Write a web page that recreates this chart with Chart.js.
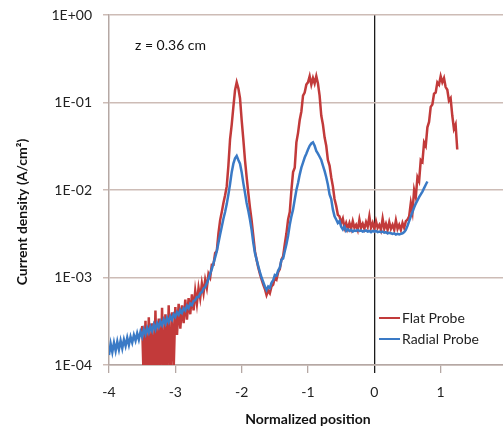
<!DOCTYPE html>
<html>
<head>
<meta charset="utf-8">
<title>Current density vs normalized position</title>
<script src="https://cdn.jsdelivr.net/npm/chart.js@4.4.1/dist/chart.umd.min.js"></script>
<style>
  html, body { margin: 0; padding: 0; background: #fff; overflow: hidden; }
  #wrap { width: 503px; height: 433px; overflow: hidden; }
  canvas { display: block; }
</style>
</head>
<body>
<div id="wrap"><canvas id="densityChart" width="520" height="433"></canvas></div>
<script>
// probe scan positions (normalized), shared by both probes
const positions = [
  -4,-3.975,-3.95,-3.925,-3.9,-3.875,-3.85,-3.825,-3.8,-3.775,-3.75,-3.725,-3.7,-3.675,-3.65,-3.625,-3.6,-3.575,-3.55,-3.525,
  -3.5,-3.475,-3.45,-3.425,-3.4,-3.375,-3.35,-3.325,-3.3,-3.275,-3.25,-3.225,-3.2,-3.175,-3.15,-3.125,-3.1,-3.075,-3.05,-3.025,
  -3,-2.975,-2.95,-2.925,-2.9,-2.875,-2.85,-2.825,-2.8,-2.775,-2.75,-2.725,-2.7,-2.675,-2.65,-2.625,-2.6,-2.575,-2.55,-2.525,
  -2.5,-2.475,-2.45,-2.425,-2.4,-2.375,-2.35,-2.325,-2.3,-2.275,-2.25,-2.225,-2.2,-2.175,-2.15,-2.125,-2.1,-2.075,-2.05,-2.025,
  -2,-1.975,-1.95,-1.925,-1.9,-1.875,-1.85,-1.825,-1.8,-1.775,-1.75,-1.725,-1.7,-1.675,-1.65,-1.625,-1.6,-1.575,-1.55,-1.525,
  -1.5,-1.475,-1.45,-1.425,-1.4,-1.375,-1.35,-1.325,-1.3,-1.275,-1.25,-1.225,-1.2,-1.175,-1.15,-1.125,-1.1,-1.075,-1.05,-1.025,
  -1,-0.975,-0.95,-0.925,-0.9,-0.875,-0.85,-0.825,-0.8,-0.775,-0.75,-0.725,-0.7,-0.675,-0.65,-0.625,-0.6,-0.575,-0.55,-0.525,
  -0.5,-0.475,-0.45,-0.425,-0.4,-0.375,-0.35,-0.325,-0.3,-0.275,-0.25,-0.225,-0.2,-0.175,-0.15,-0.125,-0.1,-0.075,-0.05,-0.025,
  0,0.025,0.05,0.075,0.1,0.125,0.15,0.175,0.2,0.225,0.25,0.275,0.3,0.325,0.35,0.375,0.4,0.425,0.45,0.475,
  0.5,0.525,0.55,0.575,0.6,0.625,0.65,0.675,0.7,0.725,0.75,0.775,0.8,0.825,0.85,0.875,0.9,0.925,0.95,0.975,
  1,1.025,1.05,1.075,1.1,1.125,1.15,1.175,1.2,1.225,1.25
];

// current density, A/cm^2 (null = no reading)
const flatProbe = [
  null,null,null,null,null,null,null,null,null,null,null,null,null,null,null,null,null,null,null,null,
  2.8e-4,6e-5,3.2e-4,5e-5,3.5e-4,7e-5,3.0e-4,5e-5,4.2e-4,6e-5,3.4e-4,8e-5,4.5e-4,5e-5,3.8e-4,7e-5,4.8e-4,6e-5,4.0e-4,9e-5,
  4.6e-4,2.2e-4,5.0e-4,2.6e-4,4.8e-4,3.0e-4,5.6e-4,3.3e-4,5.8e-4,3.8e-4,6.4e-4,4.2e-4,7.0e-4,5.0e-4,7.6e-4,5.8e-4,8.5e-4,6.6e-4,9.4e-4,7.6e-4,
  1.1e-3,1.0e-3,1.4e-3,1.4e-3,1.9e-3,2.0e-3,3.2e-3,4.5e-3,5.6e-3,7.1e-3,8.7e-3,1.1e-2,1.9e-2,3.8e-2,5.6e-2,8.9e-2,0.138,0.17,0.145,0.112,
  6.3e-2,3.8e-2,2.2e-2,1.4e-2,9.3e-3,6.3e-3,4.5e-3,3.0e-3,2.0e-3,1.6e-3,1.3e-3,1.1e-3,9.5e-4,8.3e-4,7.4e-4,6.3e-4,7.1e-4,6.6e-4,7.9e-4,8.3e-4,
  1.0e-3,9.5e-4,1.15e-3,1.25e-3,1.6e-3,1.75e-3,2.4e-3,3.2e-3,4.6e-3,5.6e-3,1.0e-2,1.6e-2,1.8e-2,3.5e-2,4.5e-2,6.3e-2,7.9e-2,0.12,0.13,0.16,
  0.17,0.2,0.16,0.19,0.165,0.2,0.165,0.12,7.1e-2,5.6e-2,4.0e-2,3.2e-2,2.2e-2,1.9e-2,1.4e-2,1.1e-2,7.9e-3,6.6e-3,5.2e-3,5.0e-3,
  4.2e-3,4.7e-3,3.7e-3,4.2e-3,3.6e-3,4.2e-3,3.6e-3,4.4e-3,3.7e-3,4.0e-3,3.5e-3,4.6e-3,3.7e-3,4.1e-3,3.6e-3,4.3e-3,3.8e-3,5.0e-3,3.7e-3,4.2e-3,
  3.6e-3,4.4e-3,3.7e-3,4.0e-3,3.5e-3,4.7e-3,3.6e-3,4.1e-3,3.5e-3,4.3e-3,3.6e-3,4.0e-3,3.5e-3,4.5e-3,3.6e-3,4.0e-3,3.5e-3,4.2e-3,3.7e-3,4.4e-3,
  4.6e-3,5.0e-3,7.1e-3,5.6e-3,1.0e-2,8.3e-3,1.4e-2,1.26e-2,2.2e-2,2.1e-2,3.5e-2,3.2e-2,5.2e-2,6.0e-2,8.9e-2,9.5e-2,0.126,0.13,0.17,0.16,
  0.2,0.17,0.19,0.15,0.14,0.105,0.112,7.1e-2,5.0e-2,5.6e-2,2.9e-2
];

const radialProbe = [
  1.3e-4,1.75e-4,1.4e-4,1.8e-4,1.45e-4,1.85e-4,1.5e-4,1.9e-4,1.55e-4,1.95e-4,1.65e-4,2.05e-4,1.7e-4,2.1e-4,1.8e-4,2.2e-4,1.9e-4,2.3e-4,1.95e-4,2.4e-4,
  2.1e-4,2.55e-4,2.25e-4,2.65e-4,2.35e-4,2.75e-4,2.45e-4,2.9e-4,2.55e-4,3.0e-4,2.7e-4,3.15e-4,2.85e-4,3.3e-4,2.95e-4,3.45e-4,3.1e-4,3.6e-4,3.3e-4,3.8e-4,
  3.55e-4,4.0e-4,3.75e-4,4.25e-4,3.95e-4,4.45e-4,4.2e-4,4.75e-4,4.45e-4,5.05e-4,4.85e-4,5.4e-4,5.5e-4,6.0e-4,6.0e-4,6.6e-4,6.8e-4,7.5e-4,7.8e-4,8.6e-4,
  9.6e-4,1.1e-3,1.25e-3,1.45e-3,1.7e-3,2.0e-3,2.5e-3,3.1e-3,3.8e-3,4.7e-3,5.6e-3,6.9e-3,8.9e-3,1.17e-2,1.6e-2,2.0e-2,2.3e-2,2.45e-2,2.2e-2,2.0e-2,
  1.6e-2,1.2e-2,9.3e-3,7.1e-3,5.8e-3,4.6e-3,3.5e-3,2.5e-3,1.9e-3,1.6e-3,1.35e-3,1.15e-3,1.0e-3,8.9e-4,7.9e-4,7.2e-4,7.9e-4,7.6e-4,8.7e-4,9.3e-4,
  1.07e-3,1.05e-3,1.2e-3,1.3e-3,1.6e-3,1.65e-3,2.0e-3,2.4e-3,3.0e-3,4.0e-3,5.0e-3,6.0e-3,7.8e-3,1.0e-2,1.2e-2,1.5e-2,1.8e-2,2.05e-2,2.35e-2,2.6e-2,
  2.9e-2,3.2e-2,3.4e-2,3.5e-2,3.2e-2,2.8e-2,2.6e-2,2.4e-2,2.2e-2,1.9e-2,1.65e-2,1.4e-2,1.15e-2,8.9e-3,7.9e-3,6.0e-3,5.0e-3,4.6e-3,4.2e-3,4.4e-3,
  3.8e-3,3.55e-3,3.8e-3,3.4e-3,3.55e-3,3.4e-3,3.5e-3,3.35e-3,3.45e-3,3.4e-3,3.5e-3,3.4e-3,3.45e-3,3.35e-3,3.4e-3,3.45e-3,3.35e-3,3.4e-3,3.3e-3,3.4e-3,
  3.35e-3,3.4e-3,3.3e-3,3.35e-3,3.3e-3,3.35e-3,3.25e-3,3.3e-3,3.2e-3,3.25e-3,3.2e-3,3.15e-3,3.2e-3,3.1e-3,3.15e-3,3.1e-3,3.15e-3,3.2e-3,3.3e-3,3.5e-3,
  3.9e-3,4.4e-3,5.0e-3,5.6e-3,6.3e-3,7.0e-3,7.6e-3,8.3e-3,8.9e-3,9.6e-3,1.05e-2,1.15e-2,1.25e-2
];

const xTicks = [-4, -3, -2, -1, 0, 1, 2];
const yTicks = [1e-4, 1e-3, 1e-2, 1e-1, 1];
const yTickLabels = ["1E-04", "1E-03", "1E-02", "1E-01", "1E+00"];
const seriesLabels = ["Flat Probe", "Radial Probe"];
const seriesColors = ["#c23a3a", "#3a7ac6"];

const GRID = "#cdbcb6";
const AXIS = "#b5a8a4";
const FONT = "Lato, 'Open Sans', sans-serif";

Chart.defaults.font.family = FONT;

function toPoints(values) {
  const pts = [];
  values.forEach((v, i) => {
    if (v !== null) pts.push({ x: positions[i], y: v });
  });
  return pts;
}

// y title, the z label and the inset legend
const extrasPlugin = {
  id: "extras",
  afterDraw(chart) {
    const ctx = chart.ctx;
    const area = chart.chartArea;

    ctx.save();
    ctx.translate(22, 212);
    ctx.rotate(-Math.PI / 2);
    ctx.font = "bold 14px " + FONT;
    ctx.fillStyle = "#111";
    ctx.textAlign = "center";
    ctx.textBaseline = "middle";
    ctx.fillText("Current density (A/cm\u00B2)", 0, 0);
    ctx.restore();

    ctx.save();
    ctx.font = "14px " + FONT;
    ctx.fillStyle = "#111";
    ctx.textBaseline = "middle";
    ctx.fillText("z = 0.36 cm", area.left + 26, area.top + 30);

    const lx = area.right - 128;
    seriesLabels.forEach((label, i) => {
      const y = area.bottom - 47 + i * 21;
      ctx.strokeStyle = seriesColors[i];
      ctx.lineWidth = 2;
      ctx.beginPath();
      ctx.moveTo(lx, y);
      ctx.lineTo(lx + 21, y);
      ctx.stroke();
      ctx.fillStyle = "#222";
      ctx.fillText(label, lx + 23, y);
    });
    ctx.restore();
  }
};

const ctx = document.getElementById("densityChart");

new Chart(ctx, {
  type: "line",
  data: {
    datasets: [
      {
        label: seriesLabels[0],
        data: toPoints(flatProbe),
        borderColor: seriesColors[0],
        borderWidth: 2.5,
        pointRadius: 0,
        tension: 0,
        order: 1
      },
      {
        label: seriesLabels[1],
        data: toPoints(radialProbe),
        borderColor: seriesColors[1],
        borderWidth: 2.5,
        pointRadius: 0,
        tension: 0,
        order: 0
      }
    ]
  },
  options: {
    responsive: false,
    animation: false,
    devicePixelRatio: 1,
    layout: { padding: { top: 15, right: 13, bottom: 0, left: 0 } },
    plugins: {
      legend: { display: false },
      tooltip: { enabled: false }
    },
    scales: {
      x: {
        type: "linear",
        min: -4,
        max: 2,
        afterBuildTicks: (s) => { s.ticks = xTicks.map((v) => ({ value: v })); },
        afterFit: (s) => { s.height = 68; s.paddingLeft = 0; s.paddingRight = 0; },
        grid: {
          color: (c) => (c.tick && c.tick.value === 0 ? "#1b1b1b" : "rgba(0,0,0,0)"),
          tickColor: (c) => (c.tick && c.tick.value === 0 ? "#1b1b1b" : AXIS),
          tickLength: 8,
          lineWidth: 1.3
        },
        border: { color: AXIS, width: 1.5 },
        ticks: { padding: 11, color: "#222", font: { size: 14 }, maxRotation: 0, autoSkip: false },
        title: {
          display: true,
          text: "Normalized position",
          color: "#111",
          font: { size: 14, weight: "bold" },
          padding: { top: 0, bottom: 5 }
        }
      },
      y: {
        type: "logarithmic",
        min: 1e-4,
        max: 1,
        afterBuildTicks: (s) => { s.ticks = yTicks.map((v) => ({ value: v })); },
        afterFit: (s) => { s.width = 109; s.paddingTop = 0; s.paddingBottom = 0; },
        grid: { color: GRID, lineWidth: 1.5, tickLength: 6 },
        border: { color: AXIS, width: 1.5 },
        ticks: {
          padding: 11,
          color: "#222",
          font: { size: 14 },
          autoSkip: false,
          callback: (v, i) => yTickLabels[i]
        }
      }
    }
  },
  plugins: [extrasPlugin]
});
</script>
</body>
</html>
